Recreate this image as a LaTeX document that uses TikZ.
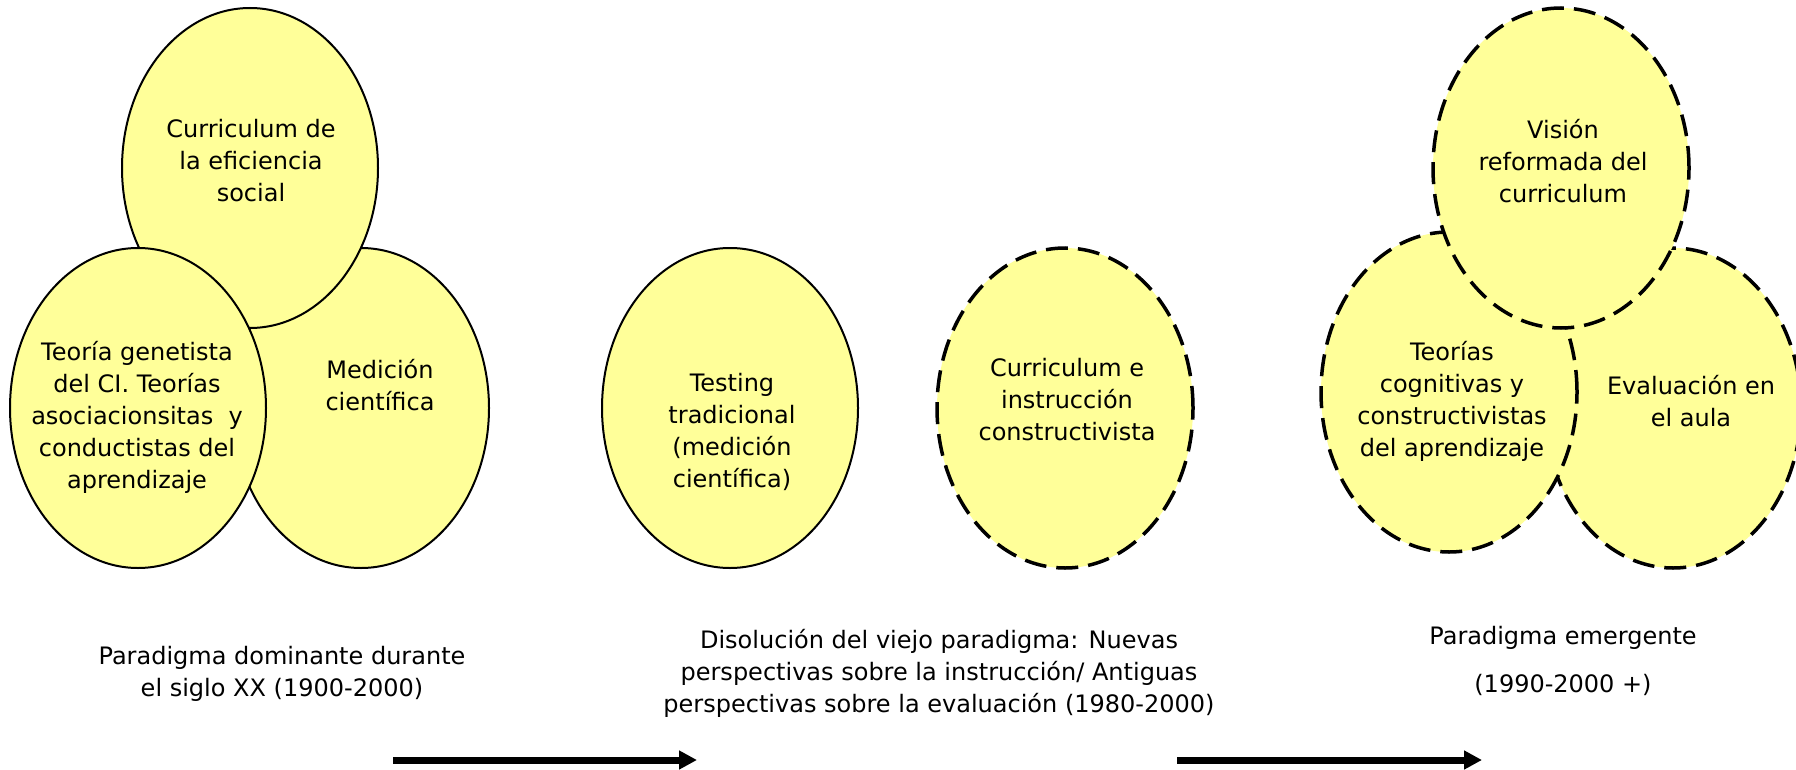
\documentclass[tikz,border=0pt]{standalone}
\usepackage{fontspec}
\setmainfont{DejaVu Sans}
\usetikzlibrary{shapes,arrows,arrows.meta}
\definecolor{paleyellow}{HTML}{FFFF99}
\tikzstyle{bubble} = [ellipse, draw, fill=paleyellow, inner sep=0pt, line width=2pt,
minimum width=256pt, minimum height=320pt]
\tikzstyle{dashbubble} = [bubble, dash pattern=on 22pt off 10pt, line width=3.5pt]
\tikzstyle{txt} = [align=center, inner sep=0pt, font=\fontsize{24}{32}\selectfont]
\tikzstyle{line} = [draw, line width=7pt, -{Triangle[length=18pt,width=18pt]}]

\begin{document}
\begin{tikzpicture}[x=1pt, y=-1pt]
	\useasboundingbox (0,0) rectangle (1796,770);
	% Place nodes
	\node [bubble] (medicion) at (361,408) {};
	\node [bubble] (eficiencia) at (250,168) {};
	\node [bubble] (genetista) at (138,408) {};
	\node [txt] (eficienciatxt) at (251,161) {Curriculum de\\la eficiencia\\social};
	\node [txt] (mediciontxt) at (380,385) {Medición\\científica};
	\node [txt] (genetistatxt) at (137,417) {Teoría genetista\\del CI. Teorías\\asociacionsitas\ \ y\\conductistas del\\aprendizaje};
	
	% Place nodes
	\node [bubble] (testing) at (730,408) {};
	\node [dashbubble] (constructivista) at (1065,408) {};
	\node [txt] (testingtxt) at (732,432) {Testing\\tradicional\\(medición\\científica)};
	\node [txt] (constructivistatxt) at (1067,400) {Curriculum e\\instrucción\\constructivista};
	
	% Place nodes
	\node [dashbubble] (evaluacion) at (1673,408) {};
	\node [dashbubble] (teorias) at (1449,392) {};
	\node [dashbubble] (vision) at (1561,168) {};
	\node [txt] (visiontxt) at (1563,161) {Visión\\reformada del\\curriculum};
	\node [txt] (teoriastxt) at (1452,401) {Teorías\\cognitivas y\\constructivistas\\del aprendizaje};
	\node [txt] (evaluaciontxt) at (1691,401) {Evaluación en\\el aula};
	
	% Captions
	\node [txt] (dominante) at (282,674) {Paradigma dominante durante\\el siglo XX (1900-2000)};
	\node [txt] (disolucion) at (939,673) {Disolución del viejo paradigma: Nuevas\\perspectivas sobre la instrucción/ Antiguas\\perspectivas sobre la evaluación (1980-2000)};
	\node [txt] (emergente) at (1563,661) {Paradigma emergente\\[16pt](1990-2000 +)};
	
	\coordinate (flecha1a) at (393,760);
	\coordinate (flecha1b) at (697,760);
	\coordinate (flecha2a) at (1177,760);
	\coordinate (flecha2b) at (1482,760);
	\path [line] (flecha1a) -- (flecha1b);
	\path [line] (flecha2a) -- (flecha2b);
\end{tikzpicture}
\end{document}
